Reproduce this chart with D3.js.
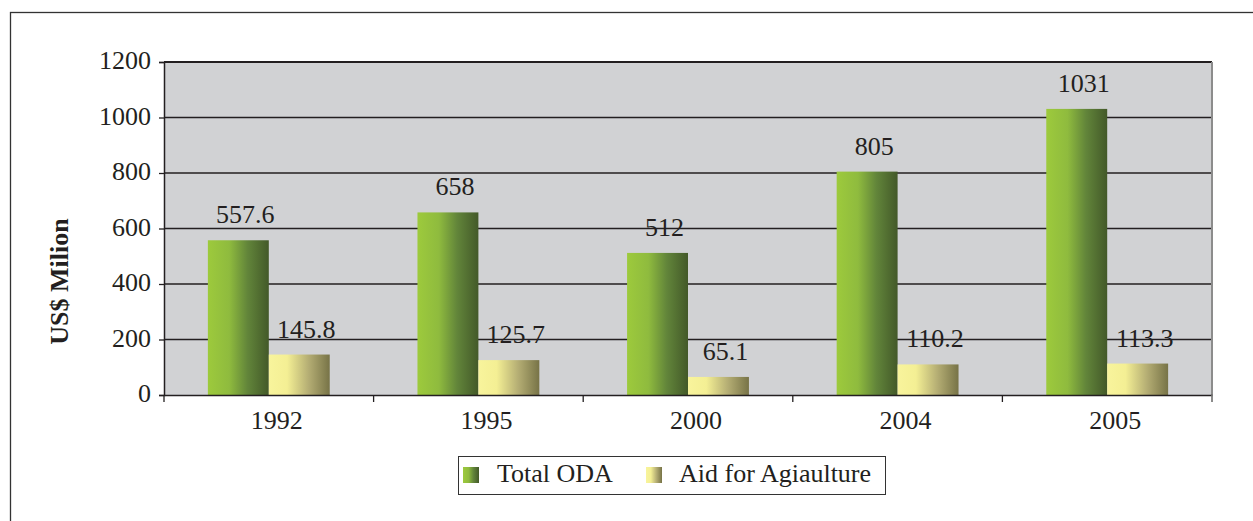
<!DOCTYPE html>
<html>
<head>
<meta charset="utf-8">
<script src="https://cdn.jsdelivr.net/npm/d3@7"></script>
<style>
  html, body { margin: 0; padding: 0; background: #fff; }
  svg { display: block; }
  svg text { font-family: 'Liberation Serif', 'Tinos', 'DejaVu Serif', serif !important; fill: #231f20; }
</style>
</head>
<body>
<svg id="chart" width="1253" height="521"></svg>
<script>
const categories = ["1992", "1995", "2000", "2004", "2005"];
const seriesNames = ["Total ODA", "Aid for Agiaulture"];
const totalODA = [557.6, 658, 512, 805, 1031];
const aidAgri = [145.8, 125.7, 65.1, 110.2, 113.3];
const yTicks = [0, 200, 400, 600, 800, 1000, 1200];

const svg = d3.select("#chart");
const W = 1253, H = 521;
const plot = { left: 164, right: 1212, top: 62, bottom: 395 };
const FS = 26;

// Gradients
const defs = svg.append("defs");
function grad(id, stops) {
  const g = defs.append("linearGradient").attr("id", id)
    .attr("x1", "0%").attr("x2", "100%").attr("y1", "0%").attr("y2", "0%");
  stops.forEach(s => g.append("stop").attr("offset", s[0]).attr("stop-color", s[1]));
}
grad("gGreen", [["0%", "#9dca3c"], ["35%", "#8fbb3e"], ["65%", "#62853a"], ["100%", "#435929"]]);
grad("gYellow", [["0%", "#f8f49c"], ["30%", "#f4ef94"], ["65%", "#b5ae74"], ["100%", "#777347"]]);
const fills = ["url(#gGreen)", "url(#gYellow)"];

// Outer frame (extends past the right and bottom edges)
svg.append("rect").attr("x", 10.5).attr("y", 12.5).attr("width", W + 20).attr("height", H + 20)
  .attr("fill", "none").attr("stroke", "#333").attr("stroke-width", 1.3);

const x0 = d3.scaleBand().domain(categories).range([plot.left, plot.right]).padding(0);
const x1 = d3.scaleBand().domain(seriesNames).range([0, x0.bandwidth()]).paddingInner(0).paddingOuter(0.72);
const y = d3.scaleLinear().domain([0, 1200]).range([plot.bottom, plot.top]);

// Plot background
svg.append("rect").attr("x", plot.left).attr("y", plot.top)
  .attr("width", plot.right - plot.left).attr("height", plot.bottom - plot.top)
  .attr("fill", "#d1d2d4");

// Gridlines
svg.append("g").selectAll("line").data(yTicks.filter(d => d > 0)).join("line")
  .attr("x1", plot.left).attr("x2", plot.right)
  .attr("y1", d => y(d)).attr("y2", d => y(d))
  .attr("stroke", "#231f20").attr("stroke-width", d => d === 1200 ? 2 : 1.3);

// Right border of plot
svg.append("line").attr("x1", plot.right).attr("x2", plot.right)
  .attr("y1", plot.top).attr("y2", plot.bottom + 7)
  .attr("stroke", "#8c8c8c").attr("stroke-width", 2);

// Bars
const data = categories.map((c, i) => ({ cat: c, vals: [totalODA[i], aidAgri[i]] }));
const groups = svg.append("g").selectAll("g").data(data).join("g")
  .attr("transform", d => `translate(${x0(d.cat)},0)`);
groups.selectAll("rect").data(d => d.vals.map((v, k) => ({ v, k }))).join("rect")
  .attr("x", d => x1(seriesNames[d.k]))
  .attr("width", x1.bandwidth())
  .attr("y", d => y(d.v))
  .attr("height", d => y(0) - y(d.v))
  .attr("fill", d => fills[d.k]);
groups.selectAll("text").data(d => d.vals.map((v, k) => ({ v, k }))).join("text")
  .attr("x", d => x1(seriesNames[d.k]) + x1.bandwidth() / 2 + 7)
  .attr("y", d => y(d.v) - 17)
  .attr("text-anchor", "middle")
  .attr("font-size", FS)
  .text(d => d.v);

// Y axis
const yAxis = d3.axisLeft(y).tickValues(yTicks).tickSize(5).tickPadding(8).tickFormat(d3.format("d"));
const ga = svg.append("g").attr("transform", `translate(${plot.left},0)`).call(yAxis);
ga.attr("font-family", null);
ga.select(".domain").attr("stroke", "#231f20").attr("stroke-width", 1.5);
ga.selectAll(".tick line").attr("stroke", "#231f20").attr("stroke-width", 1.3);
ga.selectAll(".tick text").attr("font-size", FS).attr("fill", "#231f20").attr("dy", "0.25em");

// X axis
const xAxis = d3.axisBottom(x0).tickSize(0).tickPadding(0);
const gx = svg.append("g").attr("transform", `translate(0,${plot.bottom})`).call(xAxis);
gx.attr("font-family", null);
gx.select(".domain").attr("stroke", "#231f20").attr("stroke-width", 1.5);
gx.selectAll(".tick text").attr("font-size", FS).attr("fill", "#231f20")
  .attr("dx", 8).attr("y", 34).attr("dy", 0);
// Band separator ticks
const bounds = categories.map(c => x0(c)).concat([plot.right]);
svg.append("g").selectAll("line").data(bounds).join("line")
  .attr("x1", d => d).attr("x2", d => d)
  .attr("y1", plot.bottom).attr("y2", plot.bottom + 7)
  .attr("stroke", (d, i) => i === bounds.length - 1 ? "#8c8c8c" : "#231f20").attr("stroke-width", 1.3);

// Y axis title
svg.append("text")
  .attr("transform", `translate(68,${(213 + 350) / 2}) rotate(-90)`)
  .attr("text-anchor", "middle")
  .attr("font-size", 26).attr("font-weight", "bold")
  .text("US$ Milion");

// Legend
const lg = svg.append("g");
lg.append("rect").attr("x", 458.5).attr("y", 456.5).attr("width", 427).attr("height", 38)
  .attr("fill", "#fff").attr("stroke", "#333").attr("stroke-width", 1);
const legendX = [463, 646];
const legendTextX = [497, 679];
seriesNames.forEach((s, i) => {
  lg.append("rect").attr("x", legendX[i]).attr("y", 467).attr("width", 16).attr("height", 16)
    .attr("fill", fills[i]);
  lg.append("text").attr("x", legendTextX[i]).attr("y", 482).attr("font-size", FS).text(s);
});
</script>
</body>
</html>
